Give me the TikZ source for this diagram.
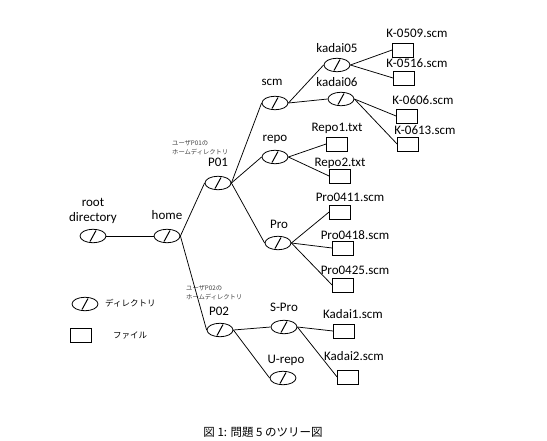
\documentclass[tikz,border=0pt]{standalone}
\usepackage{fontspec}
\setmainfont{Carlito}
\newfontfamily\jpfont{Noto Sans CJK JP}
\usepackage{tikz}
\usetikzlibrary{shapes.geometric}
\tikzset{
    folder/.style={draw, ellipse, line width=0.8pt, minimum width=26pt, minimum height=13.5pt, inner sep=0pt, path picture={\draw[line width=1pt] (path picture bounding box.center) ++(-3pt,-5.5pt) -- ++(6pt,11pt);}},
    doc/.style={draw, rectangle, line width=0.8pt, minimum width=21pt, minimum height=14pt, inner sep=0pt},
    lab/.style={inner sep=0pt, text height=9pt, text depth=2.5pt, font=\fontsize{13}{15.5}\selectfont},
    note/.style={inner sep=0pt, align=left, text=black!75, font=\jpfont\fontsize{6.3}{9}\selectfont},
    link/.style={line width=0.75pt}
}

\begin{document}
\begin{tikzpicture}[x=1pt, y=-1pt]
\useasboundingbox (0,0) rectangle (547,440);
\node[folder] (root) at (93,236) {};
\node[folder] (home) at (167,236) {};
\node[folder] (p01) at (218,183) {};
\node[folder] (p02) at (220,330) {};
\node[folder] (scm) at (275,103) {};
\node[folder] (kadai05) at (337,65) {};
\node[folder] (kadai06) at (341,99) {};
\node[folder] (repo) at (275,157) {};
\node[folder] (pro) at (278,243) {};
\node[folder] (spro) at (284,327) {};
\node[folder] (urepo) at (283,378) {};
\node[doc] (k0509) at (403,50) {};
\node[doc] (k0516) at (404,78) {};
\node[doc] (k0606) at (407,116) {};
\node[doc] (k0613) at (408,144) {};
\node[doc] (repo1) at (337,144) {};
\node[doc] (repo2) at (340,176) {};
\node[doc] (pro0411) at (340,212) {};
\node[doc] (pro0418) at (343,248) {};
\node[doc] (pro0425) at (343,285) {};
\node[doc] (kadai1) at (344,331) {};
\node[doc] (kadai2) at (348,377) {};
\node[lab, align=center, text height=, text depth=] (lroot) at (93,211) {root\\directory};
\node[lab] (lhome) at (167,216) {home};
\node[lab] (lp01) at (218,163) {P01};
\node[lab] (lp02) at (219,312) {P02};
\node[lab] (lscm) at (272,82) {scm};
\node[lab] (lkadai05) at (337,49) {kadai05};
\node[lab] (lkadai06) at (337,83) {kadai06};
\node[lab] (lrepo) at (275,138) {repo};
\node[lab] (lpro) at (279,225) {Pro};
\node[lab] (lspro) at (284,308) {S-Pro};
\node[lab] (lurepo) at (286,360) {U-repo};
\node[lab] (lk0509) at (417,34) {K-0509.scm};
\node[lab] (lk0516) at (417,64) {K-0516.scm};
\node[lab] (lk0606) at (423,101) {K-0606.scm};
\node[lab] (lk0613) at (425,131) {K-0613.scm};
\node[lab] (lrepo1) at (337,128) {Repo1.txt};
\node[lab] (lrepo2) at (340,163) {Repo2.txt};
\node[lab] (lpro0411) at (350,198) {Pro0411.scm};
\node[lab] (lpro0418) at (355,236) {Pro0418.scm};
\node[lab] (lpro0425) at (355,271) {Pro0425.scm};
\node[lab] (lkadai1) at (353,315) {Kadai1.scm};
\node[lab] (lkadai2) at (354,357) {Kadai2.scm};
\node[note, anchor=west] (n01) at (172,148) {ユーザP01の\\ホームディレクトリ};
\node[note, anchor=west] (n02) at (186,293) {ユーザP02の\\ホームディレクトリ};
\node[folder] (legdir) at (85,304) {};
\node[anchor=west, inner sep=0pt, font=\jpfont\fontsize{8.5}{10}\selectfont] (legdirtext) at (105,303) {ディレクトリ};
\node[doc] (legfile) at (81,335) {};
\node[anchor=west, inner sep=0pt, font=\jpfont\fontsize{8.5}{10}\selectfont] (legfiletext) at (113,336) {ファイル};
\node[inner sep=0pt, font=\jpfont\fontsize{11.5}{13}\selectfont] (caption) at (263,432) {図 1: 問題 5 のツリー図};
\draw[link] (root.east) -- (home.west);
\draw[link] (home.east) -- (p01.west);
\draw[link] (home.east) -- (p02.west);
\draw[link] (p01.east) -- (scm.west);
\draw[link] (p01.east) -- (repo.west);
\draw[link] (p01.east) -- (pro.west);
\draw[link] (scm.east) -- (kadai05.west);
\draw[link] (scm.east) -- (kadai06.west);
\draw[link] (kadai05.east) -- (k0509.west);
\draw[link] (kadai05.east) -- (k0516.west);
\draw[link] (kadai06.east) -- (k0606.west);
\draw[link] (kadai06.east) -- (k0613.west);
\draw[link] (repo.east) -- (repo1.west);
\draw[link] (repo.east) -- (repo2.west);
\draw[link] (pro.east) -- (pro0411.west);
\draw[link] (pro.east) -- (pro0418.west);
\draw[link] (pro.east) -- (pro0425.west);
\draw[link] (p02.east) -- (spro.west);
\draw[link] (p02.east) -- (urepo.west);
\draw[link] (spro.east) -- (kadai1.west);
\draw[link] (spro.east) -- (kadai2.west);
\end{tikzpicture}
\end{document}
